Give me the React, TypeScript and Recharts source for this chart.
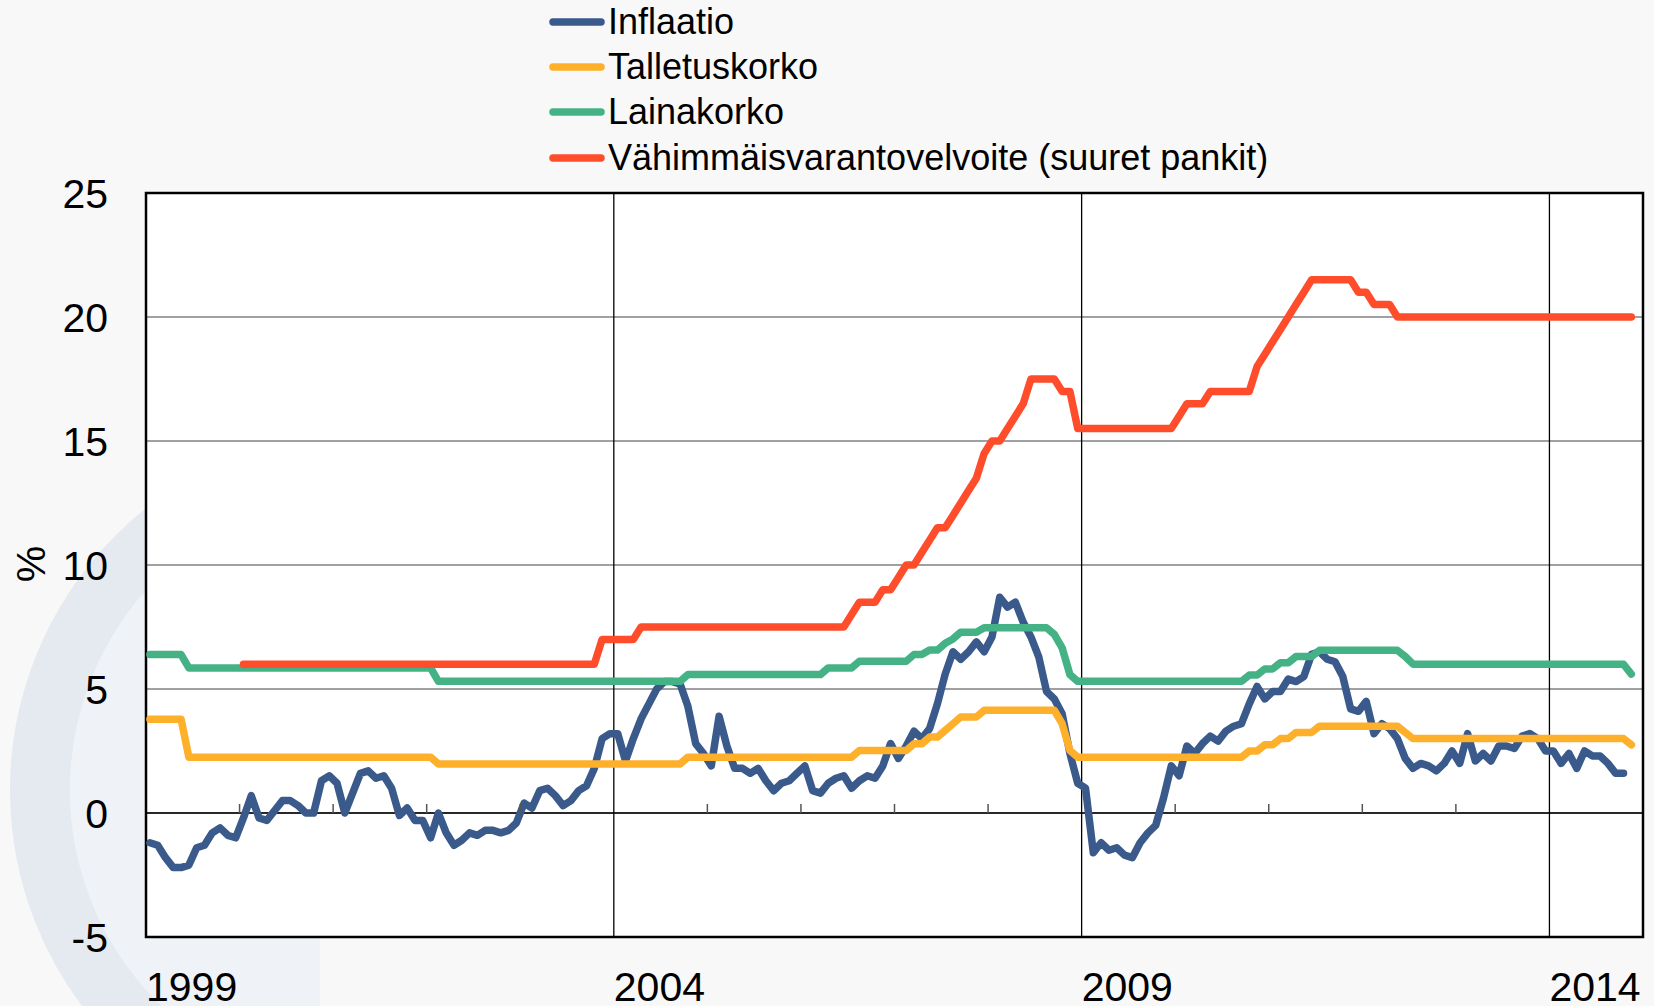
import {
  CartesianGrid,
  Line,
  LineChart,
  ReferenceArea,
  ReferenceDot,
  ReferenceLine,
  XAxis,
  YAxis,
} from "recharts";

const FONT = "Arial, 'Liberation Sans', sans-serif";

// x axis: months counted from Jan 1999
const yearLabels = ["1999", "2004", "2009", "2014"];
const labelMonths = [0, 60, 120, 180];
const gridMonths = [60, 120, 180];
const minorTickMonths = [12, 24, 36, 48, 72, 84, 96, 108, 132, 144, 156, 168];
const yTicks = [-5, 0, 5, 10, 15, 20, 25];

const seriesNames = [
  "Inflaatio",
  "Talletuskorko",
  "Lainakorko",
  "Vähimmäisvarantovelvoite (suuret pankit)",
];
const seriesKeys = ["inflation", "deposit", "lending", "reserve"];
const seriesColors = ["#3a5a8c", "#ffb02b", "#45b286", "#ff4c2b"];

// monthly values, Jan 1999 onwards
const inflation = [
  -1.2, -1.3, -1.8, -2.2, -2.2, -2.1, -1.4, -1.3, -0.8, -0.6, -0.9, -1.0,
  -0.2, 0.7, -0.2, -0.3, 0.1, 0.5, 0.5, 0.3, 0.0, 0.0, 1.3, 1.5,
  1.2, 0.0, 0.8, 1.6, 1.7, 1.4, 1.5, 1.0, -0.1, 0.2, -0.3, -0.3,
  -1.0, 0.0, -0.8, -1.3, -1.1, -0.8, -0.9, -0.7, -0.7, -0.8, -0.7, -0.4,
  0.4, 0.2, 0.9, 1.0, 0.7, 0.3, 0.5, 0.9, 1.1, 1.8, 3.0, 3.2,
  3.2, 2.1, 3.0, 3.8, 4.4, 5.0, 5.3, 5.3, 5.2, 4.3, 2.8, 2.4,
  1.9, 3.9, 2.7, 1.8, 1.8, 1.6, 1.8, 1.3, 0.9, 1.2, 1.3, 1.6,
  1.9, 0.9, 0.8, 1.2, 1.4, 1.5, 1.0, 1.3, 1.5, 1.4, 1.9, 2.8,
  2.2, 2.7, 3.3, 3.0, 3.4, 4.4, 5.6, 6.5, 6.2, 6.5, 6.9, 6.5,
  7.1, 8.7, 8.3, 8.5, 7.7, 7.1, 6.3, 4.9, 4.6, 4.0, 2.4, 1.2,
  1.0, -1.6, -1.2, -1.5, -1.4, -1.7, -1.8, -1.2, -0.8, -0.5, 0.6, 1.9,
  1.5, 2.7, 2.4, 2.8, 3.1, 2.9, 3.3, 3.5, 3.6, 4.4, 5.1, 4.6,
  4.9, 4.9, 5.4, 5.3, 5.5, 6.4, 6.5, 6.2, 6.1, 5.5, 4.2, 4.1,
  4.5, 3.2, 3.6, 3.4, 3.0, 2.2, 1.8, 2.0, 1.9, 1.7, 2.0, 2.5,
  2.0, 3.2, 2.1, 2.4, 2.1, 2.7, 2.7, 2.6, 3.1, 3.2, 3.0, 2.5,
  2.5, 2.0, 2.4, 1.8, 2.5, 2.3, 2.3, 2.0, 1.6, 1.6,
];

const deposit = [
  3.78, 3.78, 3.78, 3.78, 3.78, 2.25, 2.25, 2.25, 2.25, 2.25, 2.25, 2.25,
  2.25, 2.25, 2.25, 2.25, 2.25, 2.25, 2.25, 2.25, 2.25, 2.25, 2.25, 2.25,
  2.25, 2.25, 2.25, 2.25, 2.25, 2.25, 2.25, 2.25, 2.25, 2.25, 2.25, 2.25,
  2.25, 1.98, 1.98, 1.98, 1.98, 1.98, 1.98, 1.98, 1.98, 1.98, 1.98, 1.98,
  1.98, 1.98, 1.98, 1.98, 1.98, 1.98, 1.98, 1.98, 1.98, 1.98, 1.98, 1.98,
  1.98, 1.98, 1.98, 1.98, 1.98, 1.98, 1.98, 1.98, 1.98, 2.25, 2.25, 2.25,
  2.25, 2.25, 2.25, 2.25, 2.25, 2.25, 2.25, 2.25, 2.25, 2.25, 2.25, 2.25,
  2.25, 2.25, 2.25, 2.25, 2.25, 2.25, 2.25, 2.52, 2.52, 2.52, 2.52, 2.52,
  2.52, 2.52, 2.79, 2.79, 3.06, 3.06, 3.33, 3.6, 3.87, 3.87, 3.87, 4.14,
  4.14, 4.14, 4.14, 4.14, 4.14, 4.14, 4.14, 4.14, 4.14, 3.6, 2.52, 2.25,
  2.25, 2.25, 2.25, 2.25, 2.25, 2.25, 2.25, 2.25, 2.25, 2.25, 2.25, 2.25,
  2.25, 2.25, 2.25, 2.25, 2.25, 2.25, 2.25, 2.25, 2.25, 2.5, 2.5, 2.75,
  2.75, 3.0, 3.0, 3.25, 3.25, 3.25, 3.5, 3.5, 3.5, 3.5, 3.5, 3.5,
  3.5, 3.5, 3.5, 3.5, 3.5, 3.25, 3.0, 3.0, 3.0, 3.0, 3.0, 3.0,
  3.0, 3.0, 3.0, 3.0, 3.0, 3.0, 3.0, 3.0, 3.0, 3.0, 3.0, 3.0,
  3.0, 3.0, 3.0, 3.0, 3.0, 3.0, 3.0, 3.0, 3.0, 3.0, 2.75,
];

const lending = [
  6.39, 6.39, 6.39, 6.39, 6.39, 5.85, 5.85, 5.85, 5.85, 5.85, 5.85, 5.85,
  5.85, 5.85, 5.85, 5.85, 5.85, 5.85, 5.85, 5.85, 5.85, 5.85, 5.85, 5.85,
  5.85, 5.85, 5.85, 5.85, 5.85, 5.85, 5.85, 5.85, 5.85, 5.85, 5.85, 5.85,
  5.85, 5.31, 5.31, 5.31, 5.31, 5.31, 5.31, 5.31, 5.31, 5.31, 5.31, 5.31,
  5.31, 5.31, 5.31, 5.31, 5.31, 5.31, 5.31, 5.31, 5.31, 5.31, 5.31, 5.31,
  5.31, 5.31, 5.31, 5.31, 5.31, 5.31, 5.31, 5.31, 5.31, 5.58, 5.58, 5.58,
  5.58, 5.58, 5.58, 5.58, 5.58, 5.58, 5.58, 5.58, 5.58, 5.58, 5.58, 5.58,
  5.58, 5.58, 5.58, 5.85, 5.85, 5.85, 5.85, 6.12, 6.12, 6.12, 6.12, 6.12,
  6.12, 6.12, 6.39, 6.39, 6.57, 6.57, 6.84, 7.02, 7.29, 7.29, 7.29, 7.47,
  7.47, 7.47, 7.47, 7.47, 7.47, 7.47, 7.47, 7.47, 7.2, 6.66, 5.58, 5.31,
  5.31, 5.31, 5.31, 5.31, 5.31, 5.31, 5.31, 5.31, 5.31, 5.31, 5.31, 5.31,
  5.31, 5.31, 5.31, 5.31, 5.31, 5.31, 5.31, 5.31, 5.31, 5.56, 5.56, 5.81,
  5.81, 6.06, 6.06, 6.31, 6.31, 6.31, 6.56, 6.56, 6.56, 6.56, 6.56, 6.56,
  6.56, 6.56, 6.56, 6.56, 6.56, 6.31, 6.0, 6.0, 6.0, 6.0, 6.0, 6.0,
  6.0, 6.0, 6.0, 6.0, 6.0, 6.0, 6.0, 6.0, 6.0, 6.0, 6.0, 6.0,
  6.0, 6.0, 6.0, 6.0, 6.0, 6.0, 6.0, 6.0, 6.0, 6.0, 5.6,
];

const reserve = [
  null, null, null, null, null, null, null, null, null, null, null, null,
  6, 6, 6, 6, 6, 6, 6, 6, 6, 6, 6, 6,
  6, 6, 6, 6, 6, 6, 6, 6, 6, 6, 6, 6,
  6, 6, 6, 6, 6, 6, 6, 6, 6, 6, 6, 6,
  6, 6, 6, 6, 6, 6, 6, 6, 6, 6, 7, 7,
  7, 7, 7, 7.5, 7.5, 7.5, 7.5, 7.5, 7.5, 7.5, 7.5, 7.5,
  7.5, 7.5, 7.5, 7.5, 7.5, 7.5, 7.5, 7.5, 7.5, 7.5, 7.5, 7.5,
  7.5, 7.5, 7.5, 7.5, 7.5, 7.5, 8, 8.5, 8.5, 8.5, 9, 9,
  9.5, 10, 10, 10.5, 11, 11.5, 11.5, 12, 12.5, 13, 13.5, 14.5,
  15, 15, 15.5, 16, 16.5, 17.5, 17.5, 17.5, 17.5, 17, 17, 15.5,
  15.5, 15.5, 15.5, 15.5, 15.5, 15.5, 15.5, 15.5, 15.5, 15.5, 15.5, 15.5,
  16, 16.5, 16.5, 16.5, 17, 17, 17, 17, 17, 17, 18, 18.5,
  19, 19.5, 20, 20.5, 21, 21.5, 21.5, 21.5, 21.5, 21.5, 21.5, 21,
  21, 20.5, 20.5, 20.5, 20, 20, 20, 20, 20, 20, 20, 20,
  20, 20, 20, 20, 20, 20, 20, 20, 20, 20, 20, 20,
  20, 20, 20, 20, 20, 20, 20, 20, 20, 20, 20,
];

// points sit in the middle of each month
const chartData = deposit.map((_, i) => ({
  m: i + 0.5,
  inflation: i < inflation.length ? inflation[i] : null,
  deposit: deposit[i],
  lending: lending[i],
  reserve: reserve[i],
}));

function YearTick({ x, y, payload }: any) {
  const idx = labelMonths.indexOf(payload.value);
  return (
    <text x={x} y={y + 64} textAnchor="start" fontSize={41} fontFamily={FONT} fill="#000">
      {yearLabels[idx]}
    </text>
  );
}

function LegendBox() {
  return (
    <div style={{ position: "absolute", left: 549, top: -1, fontFamily: FONT }}>
      {seriesNames.map((name, i) => (
        <div key={name} style={{ display: "flex", alignItems: "center", height: 45.4 }}>
          <svg width={56} height={12}>
            <line x1={4} y1={6} x2={52} y2={6} stroke={seriesColors[i]} strokeWidth={7.5} strokeLinecap="round" />
          </svg>
          <span style={{ fontSize: 36, lineHeight: 1, color: "#000", marginLeft: 3, whiteSpace: "nowrap" }}>
            {name}
          </span>
        </div>
      ))}
    </div>
  );
}

export default function App() {
  return (
    <div
      style={{
        position: "absolute",
        left: 0,
        top: 0,
        width: 1654,
        height: 1006,
        background: "#f8f8f8",
        overflow: "hidden",
      }}
    >
      {/* faint watermark behind the chart, only its left part shows */}
      <svg width={1654} height={1006} style={{ position: "absolute", left: 0, top: 0 }}>
        <defs>
          <clipPath id="wm">
            <rect x={0} y={0} width={320} height={1006} />
          </clipPath>
        </defs>
        <g clipPath="url(#wm)">
          <circle cx={370} cy={790} r={300} fill="#eff2f6" />
          <circle cx={370} cy={790} r={330} fill="none" stroke="#e5eaf1" strokeWidth={60} />
        </g>
      </svg>

      <div style={{ position: "absolute", left: 0, top: 0 }}>
        <LineChart
          width={1654}
          height={1006}
          data={chartData}
          margin={{ top: 193, right: 11, bottom: 0, left: 46 }}
        >
          <CartesianGrid vertical={false} stroke="#808080" strokeWidth={1.5} fill="#ffffff" fillOpacity={1} />
          <XAxis
            dataKey="m"
            type="number"
            domain={[0, 192]}
            ticks={labelMonths}
            interval={0}
            height={69}
            axisLine={false}
            tickLine={false}
            tickSize={0}
            tickMargin={0}
            tick={(props: any) => <YearTick {...props} />}
            allowDataOverflow
          />
          <YAxis
            type="number"
            domain={[-5, 25]}
            ticks={yTicks}
            interval={0}
            width={100}
            axisLine={false}
            tickLine={false}
            tickSize={0}
            tickMargin={38}
            tick={{ fontSize: 41, fill: "#000", fontFamily: FONT }}
            allowDataOverflow
          />

          {gridMonths.map((m) => (
            <ReferenceLine key={m} x={m} stroke="#000" strokeWidth={1.3} />
          ))}
          <ReferenceLine y={0} stroke="#000" strokeWidth={1.6} />
          {minorTickMonths.map((m) => (
            <ReferenceDot
              key={`t${m}`}
              x={m}
              y={0}
              r={0}
              shape={(p: any) => (
                <line x1={p.cx} x2={p.cx} y1={p.cy} y2={p.cy - 9} stroke="#555" strokeWidth={1.5} />
              )}
            />
          ))}

          {seriesKeys.map((key, i) => (
            <Line
              key={key}
              type="linear"
              dataKey={key}
              name={seriesNames[i]}
              stroke={seriesColors[i]}
              strokeWidth={7.5}
              strokeLinecap="round"
              strokeLinejoin="round"
              dot={false}
              activeDot={false}
              isAnimationActive={false}
            />
          ))}

          <ReferenceArea
            x1={0}
            x2={192}
            y1={-5}
            y2={25}
            fill="none"
            fillOpacity={0}
            stroke="#000"
            strokeWidth={2.5}
            strokeOpacity={1}
          />
        </LineChart>
      </div>

      <LegendBox />

      <div
        style={{
          position: "absolute",
          left: 31,
          top: 564,
          transform: "translate(-50%, -50%) rotate(-90deg)",
          fontFamily: FONT,
          fontSize: 41,
          lineHeight: 1,
          color: "#000",
        }}
      >
        %
      </div>
    </div>
  );
}
